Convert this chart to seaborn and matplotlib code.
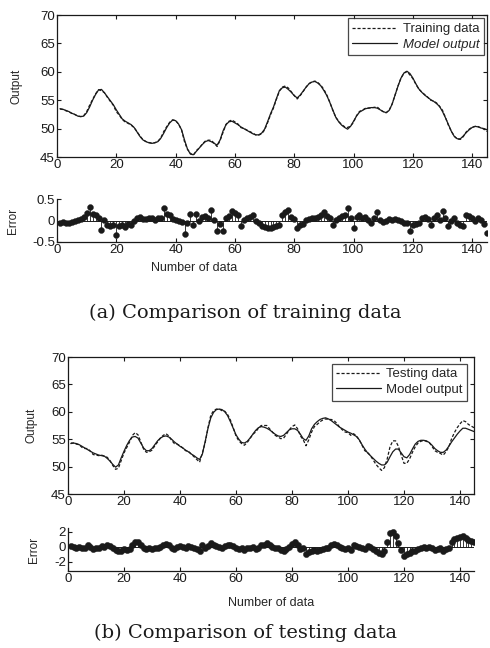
import numpy as np
import seaborn as sns
import matplotlib
matplotlib.use('Agg')
from matplotlib import pyplot as plt

# values, sample index 1..145
train_data = [53.45, 53.36, 53.14, 52.95, 52.67, 52.48, 52.22, 52.13, 52.28, 52.97,
              54.12, 55.14, 56.12, 56.85, 56.68, 56.32, 55.50, 54.78, 54.10, 52.97,
              52.38, 51.60, 51.16, 50.92, 50.60, 50.18, 49.45, 48.68, 48.04, 47.73,
              47.55, 47.46, 47.52, 47.75, 48.36, 49.50, 50.34, 51.12, 51.54, 51.42,
              50.78, 49.76, 47.68, 46.35, 45.65, 45.30, 46.14, 46.60, 47.28, 47.80,
              47.96, 47.95, 47.42, 46.85, 47.92, 49.35, 50.75, 51.30, 51.52, 51.17,
              50.82, 50.18, 50.02, 49.75, 49.48, 49.22, 48.90, 48.85, 49.08, 49.75,
              51.02, 52.42, 53.64, 55.18, 56.60, 57.32, 57.50, 57.15, 56.48, 55.84,
              55.22, 55.80, 56.52, 57.32, 57.93, 58.25, 58.36, 58.08, 57.62, 56.90,
              55.90, 54.65, 53.20, 52.02, 51.25, 50.70, 50.32, 50.20, 50.45, 51.12,
              52.28, 53.02, 53.26, 53.58, 53.62, 53.64, 53.75, 53.80, 53.32, 52.97,
              52.80, 53.23, 54.32, 55.94, 57.52, 58.90, 59.75, 60.04, 59.45, 58.80,
              57.82, 56.95, 56.45, 55.98, 55.54, 55.00, 54.85, 54.52, 53.92, 53.22,
              51.95, 50.58, 49.50, 48.66, 48.15, 48.10, 48.58, 49.42, 49.90, 50.25,
              50.38, 50.36, 50.12, 49.92, 49.50]
train_model = [53.5, 53.4, 53.2, 53.0, 52.7, 52.5, 52.2, 52.1, 52.2, 52.8,
               53.8, 55.0, 56.0, 56.8, 56.9, 56.3, 55.6, 54.9, 54.2, 53.3,
               52.5, 51.7, 51.3, 51.0, 50.7, 50.2, 49.4, 48.6, 48.0, 47.7,
               47.5, 47.4, 47.5, 47.7, 48.3, 49.2, 50.2, 51.0, 51.5, 51.4,
               50.8, 49.8, 48.0, 46.4, 45.5, 45.4, 46.0, 46.6, 47.2, 47.7,
               47.9, 47.7, 47.4, 47.1, 48.0, 49.6, 50.7, 51.2, 51.3, 51.0,
               50.7, 50.3, 50.0, 49.7, 49.4, 49.1, 48.9, 48.9, 49.2, 49.9,
               51.2, 52.6, 53.8, 55.3, 56.7, 57.2, 57.3, 56.9, 56.4, 55.8,
               55.4, 55.9, 56.6, 57.3, 57.9, 58.2, 58.3, 58.0, 57.5, 56.7,
               55.8, 54.6, 53.3, 52.0, 51.2, 50.6, 50.2, 49.9, 50.4, 51.3,
               52.2, 52.9, 53.2, 53.5, 53.6, 53.7, 53.7, 53.6, 53.3, 53.0,
               52.8, 53.2, 54.3, 55.9, 57.5, 58.9, 59.8, 60.1, 59.7, 58.9,
               57.9, 57.0, 56.4, 55.9, 55.5, 55.1, 54.8, 54.4, 53.9, 53.0,
               51.9, 50.7, 49.5, 48.6, 48.2, 48.2, 48.7, 49.3, 49.8, 50.2,
               50.4, 50.3, 50.1, 50.0, 49.8]
train_error = [-0.05, -0.04, -0.06, -0.05, -0.03, -0.02, 0.02, 0.03, 0.08, 0.17,
               0.32, 0.14, 0.12, 0.05, -0.22, 0.02, -0.10, -0.12, -0.10, -0.33,
               -0.12, -0.10, -0.14, -0.08, -0.10, -0.02, 0.05, 0.08, 0.04, 0.03,
               0.05, 0.06, 0.02, 0.05, 0.06, 0.30, 0.14, 0.12, 0.04, 0.02,
               -0.02, -0.04, -0.32, -0.05, 0.15, -0.10, 0.14, 0.00, 0.08, 0.10,
               0.06, 0.25, 0.02, -0.25, -0.08, -0.25, 0.05, 0.10, 0.22, 0.17,
               0.12, -0.12, 0.02, 0.05, 0.08, 0.12, 0.00, -0.05, -0.12, -0.15,
               -0.18, -0.18, -0.16, -0.12, -0.10, 0.12, 0.20, 0.25, 0.08, 0.04,
               -0.18, -0.10, -0.08, 0.02, 0.03, 0.05, 0.06, 0.08, 0.12, 0.20,
               0.10, 0.05, -0.10, 0.02, 0.05, 0.10, 0.12, 0.30, 0.05, -0.18,
               0.08, 0.12, 0.06, 0.08, 0.02, -0.06, 0.05, 0.20, 0.02, -0.03,
               0.00, 0.03, 0.02, 0.04, 0.02, 0.00, -0.05, -0.06, -0.25, -0.10,
               -0.08, -0.05, 0.05, 0.08, 0.04, -0.10, 0.05, 0.12, 0.02, 0.22,
               0.05, -0.12, 0.00, 0.06, -0.05, -0.10, -0.12, 0.12, 0.10, 0.05,
               -0.02, 0.06, 0.02, -0.08, -0.30]

test_data = [54.3, 54.3, 54.1, 54.0, 53.5, 53.3, 53.3, 52.8, 52.2, 52.1,
             52.0, 52.1, 51.9, 51.7, 51.1, 50.2, 49.5, 49.7, 51.1, 52.5,
             53.5, 54.5, 55.7, 56.2, 55.8, 54.5, 53.2, 52.6, 52.7, 53.0,
             53.8, 54.5, 55.2, 55.7, 56.0, 55.6, 54.8, 54.2, 54.1, 53.8,
             53.4, 52.9, 52.8, 52.3, 51.8, 51.3, 50.8, 52.5, 54.4, 57.1,
             59.4, 60.2, 60.5, 60.5, 60.2, 60.1, 59.5, 58.5, 57.1, 55.6,
             54.7, 54.2, 53.9, 54.4, 55.1, 55.9, 56.3, 57.0, 57.5, 57.5,
             57.5, 56.9, 56.3, 55.7, 55.4, 55.1, 55.2, 55.9, 56.7, 57.3,
             57.6, 56.9, 55.6, 54.9, 53.8, 54.9, 56.3, 57.3, 57.7, 58.2,
             58.5, 58.7, 58.6, 58.6, 58.4, 57.9, 57.2, 56.7, 56.3, 56.2,
             55.7, 56.0, 55.6, 54.9, 53.9, 52.9, 52.6, 52.0, 51.2, 50.4,
             49.8, 49.3, 49.8, 51.4, 53.6, 54.7, 54.7, 53.7, 52.1, 50.6,
             50.6, 51.4, 52.6, 53.6, 54.3, 54.6, 54.8, 54.6, 54.4, 53.7,
             52.9, 52.6, 52.4, 52.1, 52.7, 53.6, 55.1, 56.2, 57.1, 57.8,
             58.4, 58.2, 57.7, 57.4, 57.1]
test_model = [54.2, 54.3, 54.2, 54.0, 53.7, 53.4, 53.1, 52.8, 52.5, 52.3,
              52.1, 52.0, 51.9, 51.5, 51.0, 50.4, 49.9, 50.3, 51.6, 52.8,
              53.9, 54.8, 55.4, 55.5, 55.2, 54.3, 53.4, 52.9, 52.9, 53.3,
              54.0, 54.7, 55.2, 55.5, 55.6, 55.4, 55.0, 54.5, 54.1, 53.7,
              53.4, 53.0, 52.7, 52.3, 52.0, 51.6, 51.3, 52.3, 54.6, 57.0,
              58.9, 59.9, 60.4, 60.5, 60.4, 60.0, 59.3, 58.2, 57.0, 55.8,
              55.0, 54.4, 54.3, 54.6, 55.2, 55.9, 56.6, 57.1, 57.3, 57.2,
              57.0, 56.7, 56.3, 55.9, 55.6, 55.5, 55.7, 56.2, 56.7, 56.9,
              56.9, 56.6, 55.9, 55.1, 54.8, 55.6, 56.9, 57.7, 58.2, 58.6,
              58.8, 58.9, 58.7, 58.4, 58.0, 57.6, 57.2, 56.9, 56.6, 56.3,
              56.1, 55.8, 55.5, 54.9, 54.0, 53.2, 52.5, 52.0, 51.5, 51.0,
              50.6, 50.3, 50.3, 50.8, 51.8, 52.7, 53.2, 53.2, 52.5, 51.8,
              51.6, 52.2, 53.2, 54.1, 54.6, 54.8, 54.8, 54.7, 54.4, 53.9,
              53.3, 52.9, 52.6, 52.6, 53.0, 53.7, 54.5, 55.2, 55.9, 56.5,
              57.0, 57.0, 56.8, 56.6, 56.4]
test_error = [0.1, 0.0, -0.1, 0.0, -0.2, -0.1, 0.2, 0.0, -0.3, -0.2,
              -0.1, 0.1, 0.0, 0.2, 0.1, -0.2, -0.4, -0.6, -0.5, -0.3,
              -0.4, -0.3, 0.3, 0.7, 0.6, 0.2, -0.2, -0.3, -0.2, -0.3,
              -0.2, -0.2, 0.0, 0.2, 0.4, 0.2, -0.2, -0.3, 0.0, 0.1,
              0.0, -0.1, 0.1, 0.0, -0.2, -0.3, -0.5, 0.2, -0.2, 0.1,
              0.5, 0.3, 0.1, 0.0, -0.2, 0.1, 0.2, 0.3, 0.1, -0.2,
              -0.3, -0.2, -0.4, -0.2, -0.1, 0.0, -0.3, -0.1, 0.2, 0.3,
              0.5, 0.2, 0.0, -0.2, -0.2, -0.4, -0.5, -0.3, 0.0, 0.4,
              0.7, 0.3, -0.3, -0.2, -1.0, -0.7, -0.6, -0.4, -0.5, -0.4,
              -0.3, -0.2, -0.1, 0.2, 0.4, 0.3, 0.0, -0.2, -0.3, -0.1,
              -0.4, 0.2, 0.1, 0.0, -0.1, -0.3, 0.1, 0.0, -0.3, -0.6,
              -0.8, -1.0, -0.5, 0.6, 1.8, 2.0, 1.5, 0.5, -0.4, -1.2,
              -1.0, -0.8, -0.6, -0.5, -0.3, -0.2, 0.0, -0.1, 0.0, -0.2,
              -0.4, -0.3, -0.2, -0.5, -0.3, -0.1, 0.6, 1.0, 1.2, 1.3,
              1.4, 1.2, 0.9, 0.8, 0.7]

x_ticks = [0, 20, 40, 60, 80, 100, 120, 140]
out_ticks = [45, 50, 55, 60, 65, 70]

sns.set_style('ticks')
plt.rcParams['font.family'] = ['Liberation Sans', 'DejaVu Sans']
INK = '#1a1a1a'


def output_panel(ax, data, model, data_name, italic_model, pad):
    n = np.arange(1, len(data) + 1)
    sns.lineplot(x=n, y=data, ax=ax, color=INK, lw=0.9, linestyle=(0, (2.5, 1.5)),
                 label=data_name)
    sns.lineplot(x=n, y=model, ax=ax, color=INK, lw=0.9, label='Model output')
    ax.set_xlim(0, 145)
    ax.set_ylim(45, 70)
    ax.set_xticks(x_ticks)
    ax.set_yticks(out_ticks)
    ax.tick_params(direction='in', top=True, right=True, labelsize=9.5, length=3,
                   width=0.8, pad=1.5, colors=INK)
    for s in ax.spines.values():
        s.set_linewidth(0.9)
        s.set_color(INK)
    ax.set_ylabel('Output', fontsize=8.5)
    leg = ax.legend(loc='upper right', fontsize=9.5, frameon=True, fancybox=False,
                    borderpad=0.35, handlelength=3.4, handletextpad=0.4,
                    labelspacing=0.25, borderaxespad=pad)
    leg.get_frame().set_edgecolor(INK)
    leg.get_frame().set_linewidth(0.9)
    if italic_model:
        leg.get_texts()[1].set_style('italic')


def error_panel(ax, err, ylim, yticks, yticklabels, msize):
    n = np.arange(1, len(err) + 1)
    ax.axhline(0, color=INK, lw=0.7)
    ax.vlines(n, 0, err, color=INK, lw=0.6)
    sns.scatterplot(x=n, y=err, ax=ax, color=INK, s=msize, edgecolor=INK,
                    linewidth=0.3, zorder=3)
    ax.set_xlim(0, 145)
    ax.set_ylim(*ylim)
    ax.set_xticks(x_ticks)
    ax.set_yticks(yticks)
    ax.set_yticklabels(yticklabels)
    ax.tick_params(direction='in', labelsize=9.5, length=3, width=0.8, pad=1.5,
                   colors=INK)
    sns.despine(ax=ax)
    for s in ax.spines.values():
        s.set_linewidth(0.9)
        s.set_color(INK)
    ax.set_ylabel('Error', fontsize=8.5)
    ax.set_xlabel('Number of data', fontsize=9)


fig = plt.figure(figsize=(4.9, 6.48), dpi=100)
W, H = 490.0, 648.0


def box(l, t, r, b):
    return [l / W, 1 - b / H, (r - l) / W, (b - t) / H]


ax1 = fig.add_axes(box(57, 15, 487, 157))
ax2 = fig.add_axes(box(57, 199, 487, 242))
ax3 = fig.add_axes(box(68, 357, 474, 494))
ax4 = fig.add_axes(box(68, 528, 474, 571))

output_panel(ax1, train_data, train_model, 'Training data', True, 0.25)
error_panel(ax2, train_error, (-0.5, 0.5), [-0.5, 0, 0.5], ['-0.5', '0', '0.5'], 18)
output_panel(ax3, test_data, test_model, 'Testing data', False, 0.5)
error_panel(ax4, test_error, (-3.2, 2.5), [-2, 0, 2], ['-2', '0', '2'], 20)

ax1.yaxis.set_label_coords(-0.081, 0.5)
ax2.yaxis.set_label_coords(-0.088, 0.5)
ax3.yaxis.set_label_coords(-0.076, 0.5)
ax4.yaxis.set_label_coords(-0.069, 0.5)
ax2.xaxis.set_label_coords(0.32, -0.46)
ax4.xaxis.set_label_coords(0.5, -0.6)

fig.text(245 / W, 1 - 313 / H, '(a) Comparison of training data', ha='center',
         va='center', fontsize=14, family=['DejaVu Serif'], color=INK)
fig.text(245 / W, 1 - 633 / H, '(b) Comparison of testing data', ha='center',
         va='center', fontsize=14, family=['DejaVu Serif'], color=INK)

fig.savefig('out.png', dpi=100)
